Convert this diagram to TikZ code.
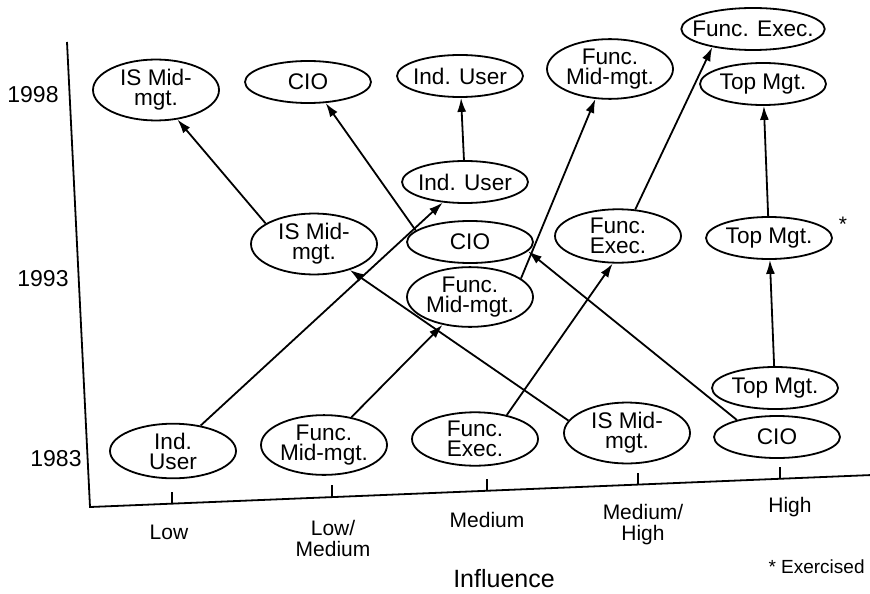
\documentclass[tikz,border=0pt]{standalone}
\usepackage{fontspec}
\setmainfont{Liberation Sans}
\usetikzlibrary{arrows.meta, positioning, shapes.geometric}
\tikzset{
    every node/.style={inner sep=2pt},
    arr/.style={line width=0.9pt, -{Latex[length=7pt, width=4.5pt]}},
    axis/.style={line width=0.9pt},
    oval/.style={ellipse, draw, line width=0.9pt, align=center,
        inner xsep=-5pt, inner ysep=0.5pt, minimum width=63pt, minimum height=21pt,
        font=\fontsize{11.3}{10}\selectfont
    },
    lbl/.style={align=center, font=\fontsize{10.5}{10.5}\selectfont}
}

\begin{document}
\begin{tikzpicture}[x=0.5pt, y=-0.5pt]
                \clip (0,0) rectangle (870,593);

                % axes
                \coordinate (ytop) at (67,42);
                \coordinate (orig) at (90,507);
                \coordinate (xend) at (872,475);
                \draw[axis] (ytop) -- (orig) -- (xend);
                \foreach \tx/\ty in {172/504, 332/497, 487/491, 638/485, 780/479}
                    \draw[axis] (\tx,\ty) -- (\tx,\ty-12);

                \node[lbl, font=\fontsize{11.5}{12}\selectfont] (y98) at (33,95) {1998};
                \node[lbl, font=\fontsize{11.5}{12}\selectfont] (y93) at (43,279) {1993};
                \node[lbl, font=\fontsize{11.5}{12}\selectfont] (y83) at (56,459) {1983};

                \node[lbl] (low) at (169,532) {Low};
                \node[lbl] (lowmed) at (333,538) {Low/\\Medium};
                \node[lbl] (med) at (487,520) {Medium};
                \node[lbl] (medhigh) at (643,525) {Medium/\\High};
                \node[lbl] (high) at (790,507) {High};
                \node[lbl, font=\fontsize{12.5}{13}\selectfont] (infl) at (504,579) {Influence};
                \node[lbl, font=\fontsize{9.5}{10}\selectfont, anchor=east] (note) at (869,567) {* Exercised};
                \node[lbl] (star) at (843,224) {*};

                % 1983
                \node[oval] (iu1) at (173,451) {Ind.\\User};
                \node[oval] (fm1) at (324,445) {Func.\\Mid-mgt.};
                \node[oval] (fe1) at (475,439) {Func.\\Exec.};
                \node[oval] (is1) at (627,433) {IS Mid-\\mgt.};
                \node[oval] (cio1) at (777,437) {CIO};
                \node[oval] (tm1) at (775,388) {Top Mgt.};

                % 1993
                \node[oval] (is2) at (314,244) {IS Mid-\\mgt.};
                \node[oval] (iu2) at (465,182) {Ind. User};
                \node[oval] (cio2) at (470,242) {CIO};
                \node[oval] (fm2) at (470,297) {Func.\\Mid-mgt.};
                \node[oval] (fe2) at (618,236) {Func.\\Exec.};
                \node[oval] (tm2) at (769,238) {Top Mgt.};

                % 1998
                \node[oval] (is3) at (156,90) {IS Mid-\\mgt.};
                \node[oval] (cio3) at (308,82) {CIO};
                \node[oval] (iu3) at (460,76) {Ind. User};
                \node[oval] (fm3) at (610,69) {Func.\\Mid-mgt.};
                \node[oval] (fe3) at (753,29) {Func. Exec.};
                \node[oval] (tm3) at (763,84) {Top Mgt.};

                \draw[arr] (iu1) -- (iu2);
                \draw[arr] (iu2) -- (iu3);
                \draw[arr] (fm1) -- (fm2);
                \draw[arr] (fm2.20) -- (fm3.244);
                \draw[arr] (fe1.37) -- (fe2.259);
                \draw[arr] (fe2.57) -- (fe3.204);
                \draw[arr] (is1.168) -- (is2.-36);
                \draw[arr] (is2.157) -- (is3.-54);
                \draw[arr] (cio1.157) -- (cio2.-9);
                \draw[arr] (cio2.168) -- (cio3.-50);
                \draw[arr] (tm1) -- (tm2);
                \draw[arr] (tm2) -- (tm3);
            \end{tikzpicture}
\end{document}
